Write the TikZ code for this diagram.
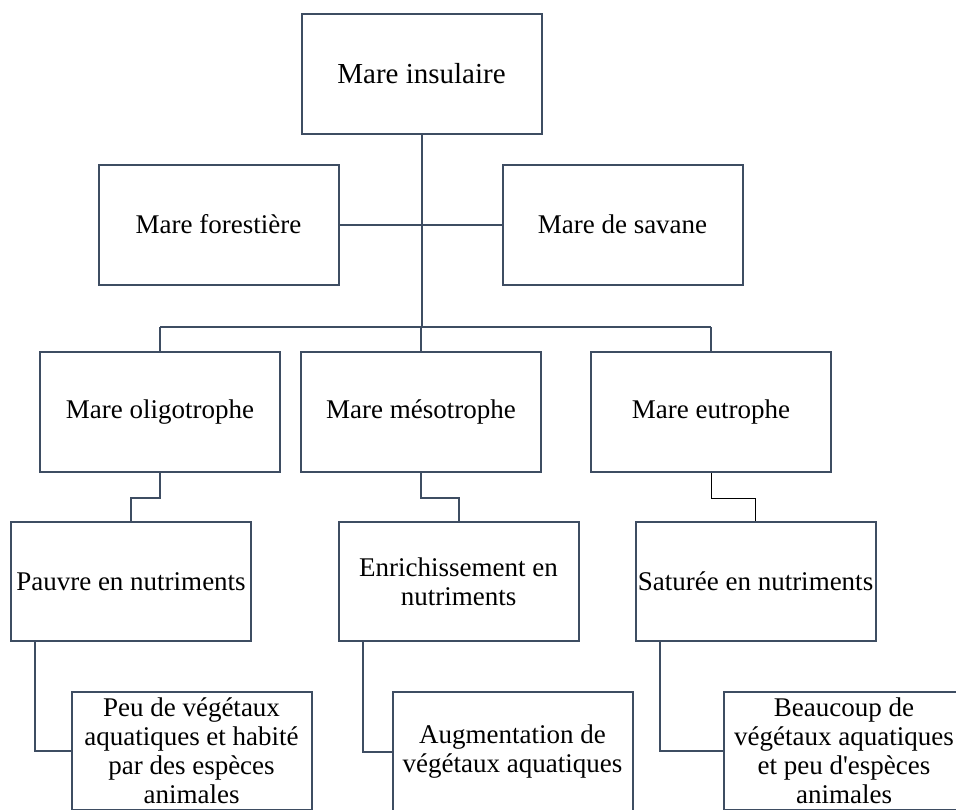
\documentclass[tikz,border=0pt]{standalone}
\usepackage{fontspec}
\setmainfont{Liberation Serif}
\definecolor{boxc}{RGB}{62,77,98}
\begin{document}
\begin{tikzpicture}[x=1pt,y=-1pt,
  box/.style={draw=boxc, line width=2pt, fill=white, minimum width=240pt, minimum height=120pt,
              inner sep=0pt, align=center, font=\fontsize{27}{29}\selectfont},
  link/.style={draw=boxc, line width=2pt},
  thinlink/.style={draw=black, line width=1pt}]
\useasboundingbox (0,0) rectangle (956,809);
\fill[white] (0,0) rectangle (956,809);
\clip (0,0) rectangle (956,809);
% nodes
\node[box, font=\fontsize{29}{31}\selectfont] (insul) at (421.5,74) {Mare insulaire};
\node[box] (forest) at (218.5,224.5) {Mare forestière};
\node[box] (savane) at (622.5,224.5) {Mare de savane};
\node[box] (oligo) at (160,412) {Mare oligotrophe};
\node[box] (meso) at (421,412) {Mare mésotrophe};
\node[box] (eutro) at (711,412) {Mare eutrophe};
\node[box, minimum height=119pt] (pauvre) at (131,581.5) {Pauvre en nutriments};
\node[box, minimum height=119pt] (enrich) at (458.5,581.5) {Enrichissement en\\nutriments};
\node[box, minimum height=119pt] (sature) at (755.5,581.5) {Saturée en nutriments};
\node[box, minimum height=118pt] (peu) at (191.5,751) {Peu de végétaux\\aquatiques et habité\\par des espèces\\animales};
\node[box] (augm) at (512.5,752) {Augmentation de\\végétaux aquatiques};
\node[box, minimum height=118pt] (beauc) at (844,751) {Beaucoup de\\végétaux aquatiques\\et peu d\textquotesingle espèces\\animales};
% connectors
\coordinate (busL) at (160,327);
\coordinate (busR) at (711,327);
\draw[link] (insul.south) -- (insul.south |- busL);
\draw[link] (forest.east) -- (savane.west);
\draw[link] (busL) -- (busR);
\draw[link] (busL) -- (oligo.north);
\draw[link] (meso.north) -- (meso.north |- busL);
\draw[link] (busR) -- (eutro.north);
\draw[link] (oligo.south) -- ++(0,25) -| (pauvre.north);
\draw[link] (meso.south) -- ++(0,25) -| (enrich.north);
\draw[thinlink] (eutro.south) -- ++(0,25) -| (sature.north);
\draw[link] ([xshift=-96pt]pauvre.south) |- (peu.west);
\draw[link] ([xshift=-95.5pt]enrich.south) |- (augm.west);
\draw[link] ([xshift=-95.5pt]sature.south) |- (beauc.west);
\end{tikzpicture}
\end{document}
